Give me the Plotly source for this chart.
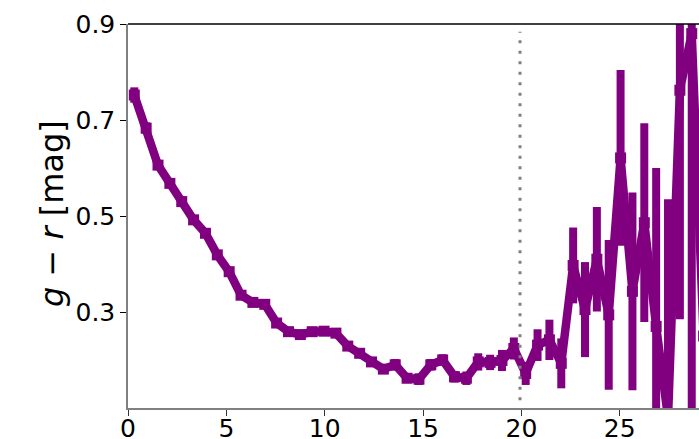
import plotly.graph_objects as go

radius = [0.32, 0.923, 1.526, 2.129, 2.732, 3.335, 3.938, 4.541, 5.144, 5.747,
          6.35, 6.953, 7.556, 8.159, 8.762, 9.365, 9.968, 10.571, 11.174, 11.777,
          12.38, 12.983, 13.586, 14.189, 14.792, 15.395, 15.998, 16.601, 17.204, 17.807,
          18.41, 19.013, 19.616, 20.219, 20.822, 21.425, 22.028, 22.631, 23.234, 23.837,
          24.44, 25.043, 25.646, 26.249, 26.852, 27.455, 28.058, 28.661, 29.264]

color_gr = [0.752, 0.683, 0.606, 0.568, 0.530, 0.492, 0.464, 0.419, 0.384, 0.335,
            0.320, 0.316, 0.277, 0.259, 0.253, 0.259, 0.260, 0.256, 0.229, 0.214,
            0.196, 0.181, 0.190, 0.162, 0.160, 0.190, 0.200, 0.165, 0.162, 0.196,
            0.195, 0.199, 0.224, 0.172, 0.231, 0.242, 0.193, 0.397, 0.305, 0.410,
            0.294, 0.621, 0.343, 0.486, 0.27, 0.08, 0.762, 0.88, 0.25]

color_err = [0.016, 0.012, 0.008, 0.008, 0.008, 0.008, 0.008, 0.008, 0.008, 0.008,
             0.008, 0.008, 0.008, 0.008, 0.008, 0.008, 0.008, 0.008, 0.008, 0.008,
             0.009, 0.010, 0.012, 0.010, 0.012, 0.012, 0.012, 0.012, 0.014, 0.018,
             0.016, 0.022, 0.023, 0.024, 0.033, 0.042, 0.052, 0.079, 0.099, 0.109,
             0.156, 0.183, 0.206, 0.207, 0.33, 0.455, 0.477, 0.8, 0.5]

x_ticks = [0, 5, 10, 15, 20, 25]
y_ticks = [0.3, 0.5, 0.7, 0.9]
vline_x = 19.93

PURPLE = "#800080"
FONT = "DejaVu Sans"

fig = go.Figure()
fig.add_trace(go.Scatter(
    x=radius, y=color_gr, mode="lines+markers",
    line=dict(color=PURPLE, width=8.5),
    marker=dict(symbol="square", size=11, color=PURPLE),
    error_y=dict(type="data", array=color_err, color=PURPLE, thickness=8, width=0),
    showlegend=False,
))

fig.add_shape(type="line", xref="x", yref="y domain", x0=vline_x, x1=vline_x, y0=0.02, y1=0.98,
              line=dict(color="#808080", width=3, dash="3px,7.5px"))
fig.add_shape(type="line", xref="x domain", yref="y domain", x0=0, x1=1, y0=1, y1=1,
              line=dict(color="black", width=1.5))

fig.add_annotation(text="<i>g</i> − <i>r</i> [mag]", xref="paper", yref="paper",
                   x=(52 - 128) / 571, y=0.505, xanchor="center", yanchor="middle",
                   textangle=-90, showarrow=False, font=dict(family=FONT, size=32, color="black"))

fig.update_layout(
    width=699, height=439,
    margin=dict(l=128, r=0, t=24, b=31, pad=0, autoexpand=False),
    paper_bgcolor="white", plot_bgcolor="white",
    font=dict(family=FONT, size=25, color="black"),
)
fig.update_xaxes(range=[0, 29.03], tickvals=x_ticks, ticktext=[str(v) for v in x_ticks],
                 automargin=False, ticklabelstandoff=-9,
                 showgrid=False, zeroline=False, showline=True, linecolor="#808080", linewidth=1.5,
                 ticks="outside", ticklen=6, tickwidth=1.2, tickcolor="#333333",
                 tickfont=dict(family=FONT, size=25, color="black"))
fig.update_yaxes(range=[0.1, 0.9], tickvals=y_ticks, ticktext=[f"{v:.1f}" for v in y_ticks],
                 automargin=False,
                 showgrid=False, zeroline=False, showline=True, linecolor="#808080", linewidth=1.5,
                 ticks="outside", ticklen=6, tickwidth=1.2, tickcolor="black",
                 tickfont=dict(family=FONT, size=25, color="black"))

fig.write_html("out.html")
